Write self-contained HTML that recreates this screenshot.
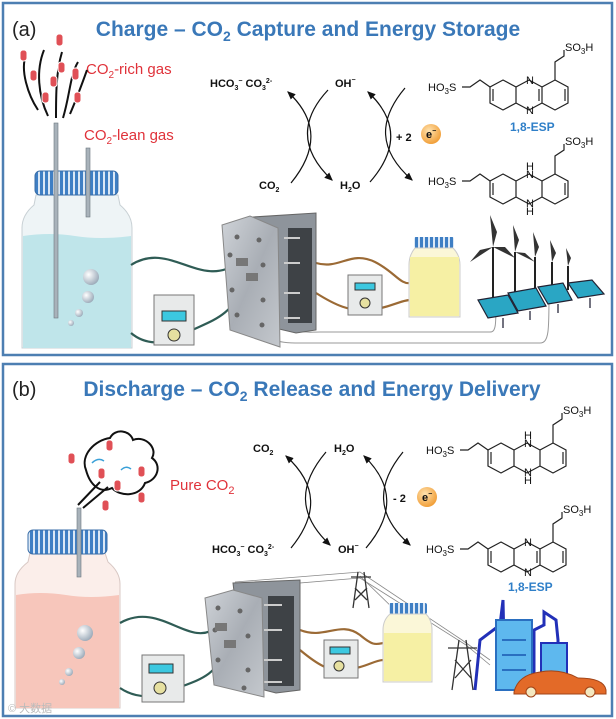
<!DOCTYPE html>
<html><head><meta charset="utf-8"><style>
html,body{margin:0;padding:0;background:#fff}
svg{display:block}
text{font-family:"Liberation Sans",sans-serif}
.t{font-weight:bold;fill:#3a78b8;font-size:21px}
.lab{font-size:20px;fill:#222}
.red{fill:#e0323a;font-size:15px}
.eq{font-size:11px;font-weight:bold;fill:#111}
.ch{font-size:11px;fill:#111}
.esp{font-size:12px;font-weight:bold;fill:#2f7fc8}
</style></head><body>
<svg width="616" height="719" viewBox="0 0 616 719" xmlns="http://www.w3.org/2000/svg">
<defs>
<pattern id="cap" width="5" height="10" patternUnits="userSpaceOnUse"><rect width="5" height="10" fill="#3f7fc4"/><rect x="3" width="2" height="10" fill="#dbe8f6"/></pattern>
<linearGradient id="plate" x1="0" y1="0" x2="1" y2="1"><stop offset="0" stop-color="#cfd3d8"/><stop offset=".5" stop-color="#a9aeb5"/><stop offset="1" stop-color="#c4c8cd"/></linearGradient>
<radialGradient id="bub" cx=".35" cy=".35" r=".7"><stop offset="0" stop-color="#fff"/><stop offset="1" stop-color="#9aa9b8"/></radialGradient>
<radialGradient id="el" cx=".4" cy=".35" r=".7"><stop offset="0" stop-color="#ffe3b0"/><stop offset="1" stop-color="#f09a30"/></radialGradient>
<marker id="ar" markerWidth="8" markerHeight="8" refX="6" refY="4" orient="auto"><path d="M0,1 L7,4 L0,7 z" fill="#111"/></marker>
<g id="ox" fill="none" stroke="#222" stroke-width="1.2">
<path d="M503,80 L516,87 L516,103 L503,110 L490,103 L490,87 Z M529,80 L542,87 L542,103 L529,110 L516,103 L516,87 Z M555,80 L568,87 L568,103 L555,110 L542,103 L542,87 Z"/>
<path d="M493,101 L493,89 M539,101 L539,89 M565,101 L565,89"/>
<path d="M490,87 L480,80 L470,87 L462,87 M555,80 L555,62 L564,56 L564,50"/>
</g>
<g id="rd" fill="none" stroke="#222" stroke-width="1.2">
<path d="M503,80 L516,87 L516,103 L503,110 L490,103 L490,87 Z M516,87 L529,80 L542,87 M516,103 L529,110 L542,103 M555,80 L568,87 L568,103 L555,110 L542,103 L542,87 Z"/>
<path d="M493,101 L493,89 M565,101 L565,89"/>
<path d="M490,87 L480,80 L470,87 L462,87 M555,80 L555,62 L564,56 L564,50"/>
</g>
</defs>

<rect x="3" y="3" width="609" height="352" fill="#fff" stroke="#4d7fb2" stroke-width="2.5"/>
<rect x="3" y="364" width="609" height="352" fill="#fff" stroke="#4d7fb2" stroke-width="2.5"/>

<!-- ===== PANEL A ===== -->
<text x="12" y="36" class="lab">(a)</text>
<text x="308" y="36" class="t" text-anchor="middle">Charge – CO<tspan font-size="14" dy="5">2</tspan><tspan dy="-5"> Capture and Energy Storage</tspan></text>
<text x="86" y="74" class="red">CO<tspan font-size="10" dy="4">2</tspan><tspan dy="-4">-rich gas</tspan></text>
<text x="84" y="140" class="red">CO<tspan font-size="10" dy="4">2</tspan><tspan dy="-4">-lean gas</tspan></text>
<g fill="none" stroke="#111" stroke-width="2">
<path d="M38,110 C28,95 20,70 26,55"/><path d="M48,116 C38,95 36,70 44,50"/><path d="M56,118 C56,95 56,72 62,52"/><path d="M63,118 C70,95 70,75 78,62"/><path d="M70,114 C76,100 82,84 87,70"/>
</g>
<g fill="#e05056" stroke="#fff" stroke-width="1">
<rect x="56" y="34" width="7" height="12" rx="3"/><rect x="20" y="50" width="7" height="11" rx="3"/><rect x="30" y="70" width="7" height="11" rx="3"/><rect x="50" y="76" width="7" height="11" rx="3"/><rect x="72" y="68" width="7" height="12" rx="3"/><rect x="42" y="92" width="7" height="11" rx="3"/><rect x="74" y="92" width="7" height="11" rx="3"/><rect x="58" y="62" width="7" height="11" rx="3"/>
</g>
<!-- jar a -->
<path d="M36,195 L118,195 L120,205 Q132,215 132,228 L132,348 L22,348 L22,228 Q22,215 34,205 Z" fill="#eef4f6" stroke="#c8d0d4"/>
<path d="M23,236 Q50,232 75,236 Q100,240 131,236 L131,348 L23,348 Z" fill="#bfe5ea"/>
<rect x="35" y="171" width="83" height="24" rx="5" fill="url(#cap)" stroke="#3a6ea8"/>
<rect x="54" y="123" width="4" height="195" fill="#a8b2ba" stroke="#6d7880" stroke-width=".6"/>
<rect x="86" y="148" width="4" height="69" fill="#a8b2ba" stroke="#6d7880" stroke-width=".6"/>
<circle cx="91" cy="277" r="8" fill="url(#bub)"/><circle cx="88" cy="297" r="6" fill="url(#bub)"/><circle cx="79" cy="313" r="4" fill="url(#bub)"/><circle cx="71" cy="323" r="3" fill="url(#bub)"/>
<!-- equations a -->
<text x="210" y="87" class="eq">HCO<tspan font-size="7" dy="3">3</tspan><tspan font-size="7" dy="-7">−</tspan><tspan dy="4"> CO</tspan><tspan font-size="7" dy="3">3</tspan><tspan font-size="7" dy="-7">2-</tspan></text>
<text x="335" y="87" class="eq">OH<tspan font-size="7" dy="-5">−</tspan></text>
<text x="259" y="189" class="eq">CO<tspan font-size="7" dy="3">2</tspan></text>
<text x="340" y="189" class="eq">H<tspan font-size="7" dy="3">2</tspan><tspan dy="-3">O</tspan></text>
<g fill="none" stroke="#111" stroke-width="1.2" marker-end="url(#ar)">
<path d="M291,183 C318,150 318,120 288,92"/>
<path d="M328,90 C300,120 300,150 332,180"/>
<path d="M370,182 C398,150 398,120 368,92"/>
<path d="M405,88 C378,120 378,150 412,180"/>
</g>
<text x="396" y="141" class="eq" font-size="13">+ 2</text>
<circle cx="431" cy="134" r="10" fill="url(#el)"/>
<text x="426" y="138" class="eq">e<tspan font-size="7" dy="-5">−</tspan></text>
<use href="#ox"/>
<text x="526" y="84" class="ch" font-size="9">N</text><text x="526" y="114" class="ch" font-size="9">N</text>
<text x="428" y="91" class="ch">HO<tspan font-size="8" dy="3">3</tspan><tspan dy="-3">S</tspan></text>
<text x="565" y="51" class="ch">SO<tspan font-size="8" dy="3">3</tspan><tspan dy="-3">H</tspan></text>
<text x="510" y="131" class="esp">1,8-ESP</text>
<use href="#rd" transform="translate(0,94)"/>
<text x="526" y="170" class="ch" font-size="9">H</text><text x="526" y="178" class="ch" font-size="9">N</text><text x="526" y="207" class="ch" font-size="9">N</text><text x="526" y="215" class="ch" font-size="9">H</text>
<text x="428" y="185" class="ch">HO<tspan font-size="8" dy="3">3</tspan><tspan dy="-3">S</tspan></text>
<text x="565" y="145" class="ch">SO<tspan font-size="8" dy="3">3</tspan><tspan dy="-3">H</tspan></text>
<!-- thin lines a -->
<g fill="none" stroke="#999" stroke-width="1">
<path d="M292,320 C296,335 305,332 320,332 L490,332 C496,332 496,325 496,300"/>
<path d="M257,320 C265,340 275,343 300,343 L540,343 C549,343 549,330 549,295"/>
</g>
<!-- tubes a -->
<g fill="none" stroke-width="2.2">
<path d="M131,265 C170,240 200,290 238,263" stroke="#2f5c55"/>
<path d="M131,333 C145,345 165,345 180,336 C210,320 230,320 245,283" stroke="#2f5c55"/>
<path d="M316,263 C340,270 350,250 375,262 C395,272 400,285 411,283" stroke="#9b6a35"/>
<path d="M316,293 C335,305 350,312 370,310 C390,308 400,300 411,300" stroke="#9b6a35"/>
</g>
<!-- stack a -->
<polygon points="253,217 316,213 316,330 296,333 262,325" fill="#8e949b" stroke="#666"/>
<rect x="288" y="228" width="24" height="95" fill="#3e4246"/>
<g stroke="#ccc" stroke-width="2"><line x1="284" y1="238" x2="300" y2="238"/><line x1="284" y1="263" x2="300" y2="263"/><line x1="284" y1="293" x2="300" y2="293"/><line x1="284" y1="318" x2="300" y2="318"/></g>
<polygon points="222,225 250,216 278,228 280,347 230,330" fill="url(#plate)" stroke="#888"/>
<g fill="#666"><circle cx="237" cy="237" r="2.5"/><circle cx="259" cy="240" r="2.5"/><circle cx="230" cy="255" r="2.5"/><circle cx="263" cy="265" r="2.5"/><circle cx="232" cy="290" r="2.5"/><circle cx="263" cy="300" r="2.5"/><circle cx="237" cy="315" r="2.5"/><circle cx="262" cy="325" r="2.5"/></g>
<rect x="236" y="258" width="12" height="8" fill="#777"/><rect x="246" y="273" width="12" height="8" fill="#777"/>
<!-- pump a1 -->
<rect x="154" y="295" width="40" height="50" fill="#e8eaea" stroke="#777"/>
<rect x="162" y="311" width="24" height="10" fill="#3cc8e0" stroke="#333"/>
<circle cx="174" cy="335" r="6" fill="#e6e0a0" stroke="#333"/>
<!-- pump a2 -->
<rect x="348" y="275" width="34" height="40" fill="#e8eaea" stroke="#777"/>
<rect x="355" y="283" width="20" height="7" fill="#3cc8e0" stroke="#333"/>
<circle cx="365" cy="303" r="5" fill="#e6e0a0" stroke="#333"/>
<!-- small jar a -->
<rect x="414" y="237" width="40" height="11" rx="2" fill="url(#cap)"/>
<path d="M415,248 L453,248 Q460,255 460,265 L460,317 L409,317 L409,265 Q409,255 415,248 Z" fill="#fbf7d8" stroke="#ccc"/>
<path d="M410,257 L459,257 L459,316 L410,316 Z" fill="#f6f0a4"/>
<!-- wind & solar a -->
<g stroke="#222" stroke-width="2">
<line x1="493" y1="247" x2="493" y2="305"/><line x1="515" y1="252" x2="515" y2="300"/><line x1="535" y1="257" x2="535" y2="297"/><line x1="552" y1="262" x2="552" y2="293"/><line x1="568" y1="266" x2="568" y2="290"/>
</g>
<g fill="#333">
<polygon points="493,247 490,215 497,232"/><polygon points="493,247 470,262 480,250"/><polygon points="493,247 515,258 505,247"/>
<polygon points="515,252 513,225 519,240"/><polygon points="515,252 535,262 525,253"/>
<polygon points="535,257 533,232 539,247"/><polygon points="552,262 550,240 556,253"/><polygon points="568,266 566,248 571,258"/>
</g>
<g fill="#2aa6c4" stroke="#223" stroke-width="1.2">
<polygon points="478,300 508,295 518,313 488,318"/><polygon points="508,293 536,288 546,306 518,311"/><polygon points="538,287 563,283 572,300 548,304"/><polygon points="568,283 592,280 604,294 578,298"/>
</g>
<g stroke="#445" stroke-width="1.5"><line x1="503" y1="318" x2="503" y2="328"/><line x1="530" y1="311" x2="530" y2="320"/><line x1="558" y1="304" x2="558" y2="313"/><line x1="590" y1="298" x2="590" y2="308"/></g>

<!-- ===== PANEL B ===== -->
<text x="12" y="396" class="lab">(b)</text>
<text x="312" y="396" class="t" text-anchor="middle">Discharge – CO<tspan font-size="14" dy="5">2</tspan><tspan dy="-5"> Release and Energy Delivery</tspan></text>
<path d="M86,470 C80,455 95,440 110,438 C115,428 130,430 133,440 C145,435 158,448 152,458 C162,465 158,480 145,483 C140,497 120,497 112,488 C100,494 90,485 86,470 Z" fill="none" stroke="#111" stroke-width="2"/>
<path d="M78,505 L100,482 M83,508 L108,487" stroke="#111" stroke-width="2"/>
<path d="M92,463 Q98,457 104,461 M121,470 Q126,465 131,469" stroke="#3aa0d8" stroke-width="1.5" fill="none"/>
<g fill="#e05056" stroke="#fff" stroke-width="1"><rect x="68" y="453" width="7" height="11" rx="3"/><rect x="106" y="440" width="7" height="11" rx="3"/><rect x="98" y="468" width="7" height="11" rx="3"/><rect x="114" y="480" width="7" height="11" rx="3"/><rect x="138" y="466" width="7" height="11" rx="3"/><rect x="138" y="492" width="7" height="11" rx="3"/><rect x="102" y="500" width="7" height="11" rx="3"/></g>
<text x="170" y="490" class="red" font-size="16">Pure CO<tspan font-size="11" dy="4">2</tspan></text>
<!-- jar b -->
<path d="M30,553 L105,553 L108,562 Q120,572 120,584 L120,708 L15,708 L15,584 Q15,572 28,562 Z" fill="#fbeeea" stroke="#d8c8c4"/>
<path d="M16,595 Q40,591 66,595 Q90,599 119,595 L119,708 L16,708 Z" fill="#f7c6bb"/>
<rect x="28" y="530" width="79" height="24" rx="5" fill="url(#cap)" stroke="#3a6ea8"/>
<rect x="77" y="508" width="4" height="69" fill="#a8b2ba" stroke="#6d7880" stroke-width=".6"/>
<circle cx="85" cy="633" r="8" fill="url(#bub)"/><circle cx="79" cy="653" r="6" fill="url(#bub)"/><circle cx="69" cy="672" r="4" fill="url(#bub)"/><circle cx="62" cy="682" r="3" fill="url(#bub)"/>
<!-- equations b -->
<text x="253" y="452" class="eq">CO<tspan font-size="7" dy="3">2</tspan></text>
<text x="334" y="452" class="eq">H<tspan font-size="7" dy="3">2</tspan><tspan dy="-3">O</tspan></text>
<text x="212" y="553" class="eq">HCO<tspan font-size="7" dy="3">3</tspan><tspan font-size="7" dy="-7">−</tspan><tspan dy="4"> CO</tspan><tspan font-size="7" dy="3">3</tspan><tspan font-size="7" dy="-7">2-</tspan></text>
<text x="338" y="553" class="eq">OH<tspan font-size="7" dy="-5">−</tspan></text>
<g fill="none" stroke="#111" stroke-width="1.2" marker-end="url(#ar)">
<path d="M291,548 C318,515 318,485 286,456"/>
<path d="M326,452 C298,485 298,515 330,545"/>
<path d="M366,548 C394,515 394,485 364,456"/>
<path d="M403,452 C376,485 376,515 410,545"/>
</g>
<text x="393" y="502" class="eq" font-size="13">- 2</text>
<circle cx="427" cy="497" r="10" fill="url(#el)"/>
<text x="422" y="501" class="eq">e<tspan font-size="7" dy="-5">−</tspan></text>
<use href="#rd" transform="translate(-2,363)"/>
<text x="524" y="439" class="ch" font-size="9">H</text><text x="524" y="447" class="ch" font-size="9">N</text><text x="524" y="476" class="ch" font-size="9">N</text><text x="524" y="484" class="ch" font-size="9">H</text>
<text x="426" y="454" class="ch">HO<tspan font-size="8" dy="3">3</tspan><tspan dy="-3">S</tspan></text>
<text x="563" y="414" class="ch">SO<tspan font-size="8" dy="3">3</tspan><tspan dy="-3">H</tspan></text>
<use href="#ox" transform="translate(-2,462)"/>
<text x="524" y="546" class="ch" font-size="9">N</text><text x="524" y="576" class="ch" font-size="9">N</text>
<text x="426" y="553" class="ch">HO<tspan font-size="8" dy="3">3</tspan><tspan dy="-3">S</tspan></text>
<text x="563" y="513" class="ch">SO<tspan font-size="8" dy="3">3</tspan><tspan dy="-3">H</tspan></text>
<text x="508" y="591" class="esp">1,8-ESP</text>
<!-- power lines -->
<g stroke="#888" stroke-width=".8" fill="none"><path d="M235,582 L360,572 L462,640 L490,660"/><path d="M240,588 L360,578 L466,645 L490,665"/><path d="M360,576 L400,615"/></g>
<g stroke="#333" stroke-width="1.3" fill="none"><path d="M358,572 L353,608 M364,572 L369,608 M355,588 L367,600 M367,588 L355,600 M351,577 L371,577"/>
<path d="M459,640 L452,690 M466,640 L473,690 M455,660 L471,678 M471,660 L455,678 M448,648 L477,648"/></g>
<!-- tubes b -->
<g fill="none" stroke-width="2.2">
<path d="M120,623 C160,600 190,650 217,627" stroke="#2f5c55"/>
<path d="M120,688 C135,698 150,698 165,693 C195,680 215,680 227,647" stroke="#2f5c55"/>
<path d="M300,630 C325,640 340,620 360,635 C372,645 375,645 383,643" stroke="#9b6a35"/>
<path d="M300,650 C318,665 330,672 345,670 C365,668 375,660 383,660" stroke="#9b6a35"/>
</g>
<!-- stack b -->
<polygon points="233,583 300,580 300,690 276,693 245,685" fill="#8e949b" stroke="#666"/>
<rect x="268" y="596" width="26" height="90" fill="#3e4246"/>
<g stroke="#ccc" stroke-width="2"><line x1="264" y1="605" x2="282" y2="605"/><line x1="264" y1="630" x2="282" y2="630"/><line x1="264" y1="660" x2="282" y2="660"/><line x1="264" y1="682" x2="282" y2="682"/></g>
<polygon points="205,598 233,590 262,598 264,697 214,685" fill="url(#plate)" stroke="#888"/>
<g fill="#666"><circle cx="218" cy="608" r="2.5"/><circle cx="240" cy="611" r="2.5"/><circle cx="215" cy="630" r="2.5"/><circle cx="248" cy="636" r="2.5"/><circle cx="218" cy="660" r="2.5"/><circle cx="248" cy="670" r="2.5"/><circle cx="244" cy="688" r="2.5"/></g>
<rect x="215" y="623" width="12" height="8" fill="#777"/><rect x="224" y="640" width="12" height="8" fill="#777"/>
<!-- pump b1 -->
<rect x="142" y="655" width="42" height="47" fill="#e8eaea" stroke="#777"/>
<rect x="149" y="664" width="24" height="9" fill="#3cc8e0" stroke="#333"/>
<circle cx="160" cy="688" r="6" fill="#e6e0a0" stroke="#333"/>
<!-- pump b2 -->
<rect x="324" y="640" width="34" height="38" fill="#e8eaea" stroke="#777"/>
<rect x="330" y="647" width="20" height="7" fill="#3cc8e0" stroke="#333"/>
<circle cx="339" cy="666" r="5" fill="#e6e0a0" stroke="#333"/>
<!-- small jar b -->
<rect x="389" y="603" width="38" height="11" rx="2" fill="url(#cap)"/>
<path d="M390,614 L426,614 Q432,620 432,630 L432,682 L383,682 L383,630 Q383,620 390,614 Z" fill="#fbf7d8" stroke="#ccc"/>
<path d="M384,633 L431,633 L431,681 L384,681 Z" fill="#f6f0a4"/>
<!-- city & car -->
<g fill="none" stroke="#2230b8" stroke-width="3">
<path d="M475,690 L480,640 L500,625 L503,600 L505,690"/>
<path d="M534,690 L534,630 L544,625 L544,612 L556,620 L558,640 L558,690"/>
</g>
<rect x="496" y="620" width="36" height="70" fill="#5eb8ee" stroke="#2a6fc0" stroke-width="2"/>
<g stroke="#2a6fc0" stroke-width="2"><line x1="502" y1="640" x2="526" y2="640"/><line x1="502" y1="655" x2="526" y2="655"/><line x1="502" y1="670" x2="526" y2="670"/></g>
<rect x="541" y="643" width="26" height="47" fill="#5eb8ee" stroke="#2230b8" stroke-width="2"/>
<path d="M514,692 Q518,675 540,672 Q560,668 578,678 Q604,678 606,690 L606,694 L514,694 Z" fill="#e36a28" stroke="#a04418"/>
<circle cx="531" cy="692" r="5" fill="#f4e8c0" stroke="#a04418"/><circle cx="590" cy="692" r="5" fill="#f4e8c0" stroke="#a04418"/>
<text x="8" y="712" font-size="11" fill="#bbb">© 大数据</text>
</svg>
</body></html>
